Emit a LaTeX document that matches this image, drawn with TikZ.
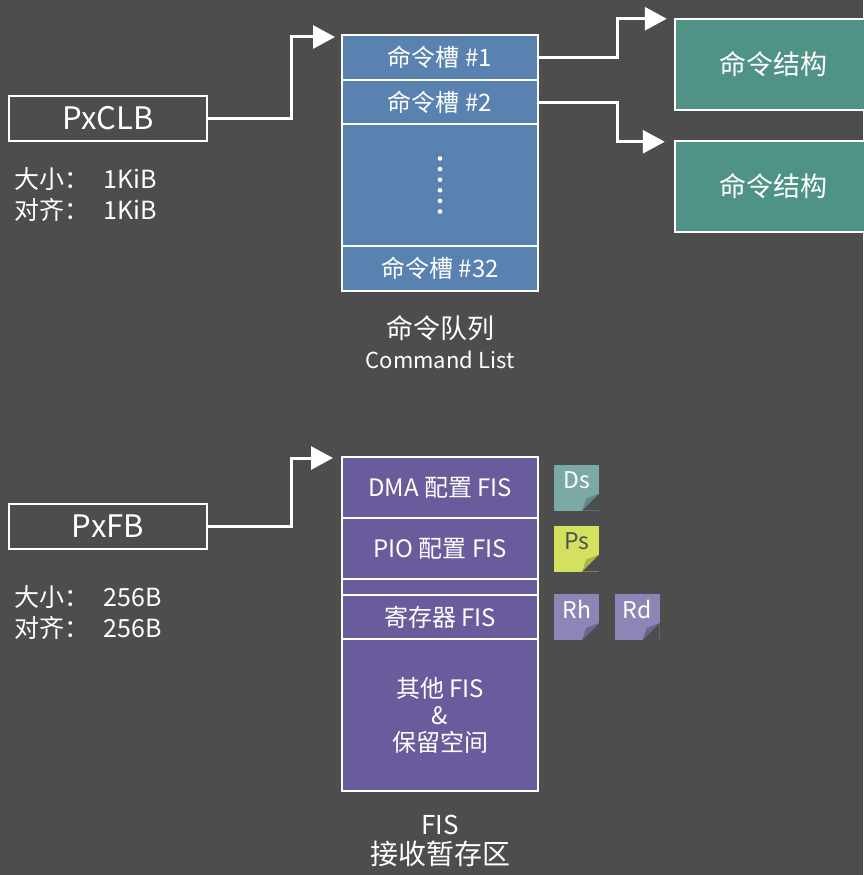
\documentclass[tikz,border=0pt]{standalone}
\usepackage{fontspec}
\setmainfont{Noto Sans CJK SC}
\usetikzlibrary{positioning, arrows.meta}

\definecolor{bggray}{HTML}{4D4D4D}
\definecolor{slotblue}{HTML}{5982B1}
\definecolor{cmdteal}{HTML}{4F9286}
\definecolor{fispurple}{HTML}{6A5C9C}
\definecolor{dsteal}{HTML}{7BAAA4}
\definecolor{dsfold}{HTML}{5E8C86}
\definecolor{psgreen}{HTML}{D4E15E}
\definecolor{psfold}{HTML}{A9B44A}
\definecolor{rlilac}{HTML}{8E84B5}
\definecolor{rfold}{HTML}{6D6496}
\definecolor{tagdark}{HTML}{505050}

\begin{document}
\begin{tikzpicture}[
    x=1pt, y=-1pt,
    every node/.style={text=white, font=\fontsize{24}{31}\selectfont},
    ptrbox/.style={
        draw=white,
        line width=2.5pt,
        minimum width=198pt,
        minimum height=45pt,
        font=\fontsize{31}{34}\selectfont
    },
    slot/.style={
        draw=white,
        line width=2.5pt,
        fill=slotblue,
        minimum width=196pt,
        inner sep=0pt,
        outer sep=0pt,
        align=center
    },
    fisrow/.style={slot, fill=fispurple, font=\fontsize{24}{27}\selectfont},
    cmdbox/.style={
        draw=white,
        line width=2.5pt,
        fill=cmdteal,
        minimum width=196pt,
        minimum height=91pt,
        font=\fontsize{27}{30}\selectfont
    },
    sizeinfo/.style={anchor=north west, align=left, font=\fontsize{25}{31}\selectfont},
    tag/.style n args={2}{
        fill=#1,
        minimum width=45pt,
        minimum height=46pt,
        inner sep=0pt,
        text depth=15pt,
        font=\fontsize{23}{24}\selectfont,
        path picture={
            \fill[bggray] (path picture bounding box.south east)
                -- ++(0pt,17pt) -- ++(-17pt,-17pt) -- cycle;
            \fill[#2] ([yshift=17pt]path picture bounding box.south east)
                -- ([xshift=-17pt]path picture bounding box.south east)
                -- ([xshift=-13pt,yshift=12pt]path picture bounding box.south east) -- cycle;
        }
    },
    link/.style={draw=white, line width=3pt, -{Triangle[length=22pt, width=23pt]}}
]

% background and page size
\fill[bggray] (0,0) rectangle (863,875);
\useasboundingbox (0,0) rectangle (863,875);

%% -- Command list --------------------------------------------------------
\node[ptrbox] (pxclb) at (108,118.5) {PxCLB};
\node[sizeinfo] (clbinfo) at (11,164)
    {大小：\hspace{14pt}1KiB\\对齐：\hspace{14pt}1KiB};

\node[slot, minimum height=45pt, anchor=north] (slot1) at (440,35) {命令槽 \#1};
\node[slot, minimum height=44pt, below=0pt of slot1] (slot2) {命令槽 \#2};
\node[slot, minimum height=122pt, below=0pt of slot2] (dots) {};
\node[slot, minimum height=45pt, below=0pt of dots] (slot32) {命令槽 \#32};
\foreach \k in {-2.5,-1.5,...,2.5}
    \fill[white] ([yshift=\k*10.6pt]dots.center) circle (2.3pt);

\node[anchor=north, align=center, font=\fontsize{27}{30}\selectfont] (listname) at (440,312)
    {命令队列\\{\fontsize{22}{24}\selectfont Command List}};

\node[cmdbox] (cmdA) at (773,64.5) {命令结构};
\node[cmdbox] (cmdB) at (773,186.5) {命令结构};

\draw[link] (pxclb.east) -- ++(83,0) |- ([xshift=-7pt,yshift=-2pt]slot1.north west);
\draw[link] (slot1.east) -- ++(79,0) |- ([xshift=-7pt,yshift=-1pt]cmdA.north west);
\draw[link] (slot2.east) -- ++(79,0) |- ([xshift=-9pt,yshift=-2pt]cmdB.north west);

%% -- FIS receive area ----------------------------------------------------
\node[ptrbox] (pxfb) at (108,526.5) {PxFB};
\node[sizeinfo] (fbinfo) at (11,582)
    {大小：\hspace{14pt}256B\\对齐：\hspace{14pt}256B};

\node[fisrow, minimum height=61pt, anchor=north] (dmafis) at (440,457) {DMA 配置 FIS};
\node[fisrow, minimum height=61pt, below=0pt of dmafis] (piofis) {PIO 配置 FIS};
\node[fisrow, minimum height=16pt, below=0pt of piofis] (gapfis) {};
\node[fisrow, minimum height=44pt, below=0pt of gapfis] (regfis) {寄存器 FIS};
\node[fisrow, minimum height=152pt, below=0pt of regfis] (otherfis)
    {其他 FIS\\\&\\保留空间};

\node[anchor=north, align=center, font=\fontsize{28}{30}\selectfont] (fisname) at (440,812)
    {{\fontsize{26}{30}\selectfont FIS}\\接收暂存区};

\node[tag={dsteal}{dsfold}, right=16pt of dmafis] (ds) {Ds};
\node[tag={psgreen}{psfold}, text=tagdark, right=16pt of piofis] (ps) {Ps};
\node[tag={rlilac}{rfold}, right=16pt of regfis] (rh) {Rh};
\node[tag={rlilac}{rfold}, right=15pt of rh] (rd) {Rd};

\draw[link] (pxfb.east) -- ++(83,0) |- ([xshift=-9pt,yshift=-1pt]dmafis.north west);

\end{tikzpicture}
\end{document}
